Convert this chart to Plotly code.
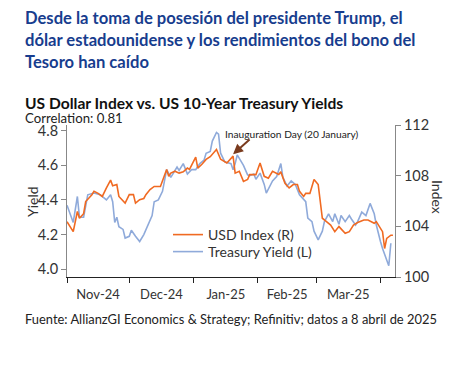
import plotly.graph_objects as go

# ---------------- data ----------------
usd_dates = ["2024-11-01","2024-11-04","2024-11-06","2024-11-07","2024-11-09","2024-11-10",
             "2024-11-13","2024-11-14","2024-11-16","2024-11-18","2024-11-20","2024-11-22",
             "2024-11-23","2024-11-25","2024-11-26","2024-11-27","2024-11-29","2024-12-01",
             "2024-12-03","2024-12-04","2024-12-06","2024-12-08","2024-12-09","2024-12-11",
             "2024-12-13","2024-12-16","2024-12-17","2024-12-19","2024-12-20","2024-12-21",
             "2024-12-23","2024-12-25","2024-12-27","2024-12-29","2024-12-30","2025-01-02",
             "2025-01-03","2025-01-05","2025-01-07","2025-01-09","2025-01-12","2025-01-14",
             "2025-01-17","2025-01-20","2025-01-21","2025-01-23","2025-01-25","2025-01-27",
             "2025-01-28","2025-01-31","2025-02-02","2025-02-04","2025-02-06","2025-02-08",
             "2025-02-11","2025-02-12","2025-02-14","2025-02-16","2025-02-18","2025-02-20",
             "2025-02-21","2025-02-23","2025-02-24","2025-02-26","2025-02-28","2025-03-02",
             "2025-03-03","2025-03-04","2025-03-06","2025-03-08","2025-03-10","2025-03-12",
             "2025-03-15","2025-03-17","2025-03-19","2025-03-21","2025-03-24","2025-03-26",
             "2025-03-29","2025-03-30","2025-04-02","2025-04-03","2025-04-04","2025-04-06",
             "2025-04-07"]
usd_index = [104.37,103.58,105.17,104.64,105.0,105.96,
             106.5,106.76,106.6,106.36,107.03,107.65,
             107.2,107.3,106.36,106.2,105.83,106.5,
             106.5,105.83,106.1,106.2,106.5,106.9,
             107.15,107.15,107.55,108.48,107.95,108.2,
             108.35,108.2,108.3,108.6,108.5,109.46,
             108.6,108.9,109.28,109.5,110.07,109.3,
             109.0,109.54,108.2,108.35,107.55,107.7,
             108.08,108.08,109.0,107.95,107.8,108.35,
             108.1,108.3,107.4,107.03,107.3,107.3,
             106.76,106.36,106.6,106.6,107.7,107.3,
             105.96,104.64,104.37,104.1,103.58,103.98,
             103.45,103.58,104.1,104.3,104.5,104.5,
             104.24,104.37,103.58,102.25,103.05,103.3,
             103.3]

tsy_dates = ["2024-11-01","2024-11-04","2024-11-06","2024-11-07","2024-11-09","2024-11-11",
             "2024-11-14","2024-11-17","2024-11-20","2024-11-22","2024-11-23","2024-11-24",
             "2024-11-25","2024-11-26","2024-11-28","2024-11-29","2024-12-01","2024-12-02",
             "2024-12-04","2024-12-06","2024-12-08","2024-12-10","2024-12-12","2024-12-13",
             "2024-12-15","2024-12-17","2024-12-18","2024-12-19","2024-12-21","2024-12-22",
             "2024-12-24","2024-12-25","2024-12-27","2024-12-29","2024-12-31","2025-01-02",
             "2025-01-04","2025-01-06","2025-01-07","2025-01-09","2025-01-10","2025-01-12",
             "2025-01-13","2025-01-14","2025-01-16","2025-01-19","2025-01-20","2025-01-21",
             "2025-01-22","2025-01-25","2025-01-27","2025-01-28","2025-01-30","2025-01-31",
             "2025-02-02","2025-02-04","2025-02-05","2025-02-08","2025-02-10","2025-02-12",
             "2025-02-13","2025-02-15","2025-02-17","2025-02-19","2025-02-21","2025-02-24",
             "2025-02-25","2025-02-27","2025-02-28","2025-03-02","2025-03-04","2025-03-05",
             "2025-03-07","2025-03-09","2025-03-10","2025-03-12","2025-03-13","2025-03-15",
             "2025-03-17","2025-03-18","2025-03-20","2025-03-21","2025-03-23","2025-03-25",
             "2025-03-27","2025-03-29","2025-03-30","2025-04-01","2025-04-02","2025-04-05",
             "2025-04-06"]
tsy_yield = [4.37,4.27,4.42,4.30,4.30,4.43,
             4.44,4.43,4.40,4.43,4.39,4.27,
             4.30,4.245,4.23,4.18,4.19,4.225,
             4.19,4.16,4.20,4.255,4.31,4.39,
             4.40,4.45,4.51,4.575,4.53,4.55,
             4.59,4.57,4.61,4.55,4.575,4.575,
             4.61,4.63,4.67,4.68,4.74,4.79,
             4.78,4.67,4.62,4.61,4.575,4.61,
             4.66,4.60,4.545,4.54,4.55,4.52,
             4.555,4.49,4.44,4.51,4.535,4.61,
             4.53,4.48,4.51,4.49,4.43,4.39,
             4.295,4.275,4.22,4.17,4.22,4.275,
             4.32,4.275,4.32,4.26,4.31,4.275,
             4.31,4.29,4.255,4.275,4.33,4.31,
             4.38,4.32,4.255,4.16,4.12,4.02,
             4.15]

yield_ticks = [4.0, 4.2, 4.4, 4.6, 4.8]
index_ticks = [100, 104, 108, 112]

title_lines = ["Desde la toma de posesión del presidente Trump, el",
               "dólar estadounidense y los rendimientos del bono del",
               "Tesoro han caído"]
chart_title = "US Dollar Index vs. US 10-Year Treasury Yields"
subtitle = "Correlation: 0.81"
source = "Fuente: AllianzGI Economics & Strategy; Refinitiv; datos a 8 abril de 2025"

ORANGE = "#F06A22"
BLUE = "#8FAADA"
NAVY = "#173D8E"
FONT = "Lato"

W, H = 465, 366
L, R, T, B = 67, 70, 125, 89
pw = W - L - R
ph = H - T - B

def px_x(x):
    return (x - L) / pw

def px_y(y):
    return (H - B - y) / ph

fig = go.Figure()
fig.add_trace(go.Scatter(x=tsy_dates, y=tsy_yield, mode="lines", name="Treasury Yield (L)",
                         line=dict(color=BLUE, width=1.6), yaxis="y", legend="legend2"))
fig.add_trace(go.Scatter(x=usd_dates, y=usd_index, mode="lines", name="USD Index (R)",
                         line=dict(color=ORANGE, width=1.6), yaxis="y2", legend="legend"))

annotations = []
for i, line in enumerate(title_lines):
    annotations.append(dict(text="<b>%s</b>" % line, xref="paper", yref="paper",
                            x=px_x(23), y=px_y(18 + 22 * i), xanchor="left", yanchor="middle",
                            showarrow=False, font=dict(family=FONT, size=16.6, color=NAVY)))
annotations.append(dict(text="<b>%s</b>" % chart_title, xref="paper", yref="paper",
                        x=px_x(23), y=px_y(103), xanchor="left", yanchor="middle",
                        showarrow=False, font=dict(family=FONT, size=15.6, color="#111111")))
annotations.append(dict(text=subtitle, xref="paper", yref="paper",
                        x=px_x(23), y=px_y(118), xanchor="left", yanchor="middle",
                        showarrow=False, font=dict(family=FONT, size=13.2, color="#222222")))
annotations.append(dict(text=source, xref="paper", yref="paper",
                        x=px_x(23), y=px_y(319), xanchor="left", yanchor="middle",
                        showarrow=False, font=dict(family=FONT, size=12.9, color="#222222")))
annotations.append(dict(text="Yield", xref="paper", yref="paper", textangle=-90,
                        x=px_x(32), y=px_y(202), xanchor="center", yanchor="middle",
                        showarrow=False, font=dict(family=FONT, size=14, color="#333333")))
annotations.append(dict(text="Index", xref="paper", yref="paper", textangle=90,
                        x=px_x(438), y=px_y(197), xanchor="center", yanchor="middle",
                        showarrow=False, font=dict(family=FONT, size=14, color="#333333")))
annotations.append(dict(text="Inauguration Day (20 January)", xref="paper", yref="paper",
                        x=px_x(291), y=px_y(134), xanchor="center", yanchor="middle",
                        showarrow=False, font=dict(family=FONT, size=10.2, color="#222222")))
annotations.append(dict(text="", x="2025-01-20", y=109.7, xref="x", yref="y2",
                        showarrow=True, arrowhead=2, arrowsize=1, arrowwidth=2,
                        arrowcolor="#7A3B1E", ax=18, ay=-16, axref="pixel", ayref="pixel"))

legend_common = dict(xanchor="left", yanchor="middle", bgcolor="rgba(0,0,0,0)",
                     font=dict(family=FONT, size=14, color="#333333"), itemwidth=30)

fig.update_layout(
    width=W, height=H,
    margin=dict(l=L, r=R, t=T, b=B, pad=0),
    paper_bgcolor="white", plot_bgcolor="white",
    font=dict(family=FONT, size=13, color="#333333"),
    showlegend=True,
    legend=dict(x=px_x(168), y=px_y(235), **legend_common),
    legend2=dict(x=px_x(168), y=px_y(252), **legend_common),
    xaxis=dict(type="date", range=["2024-11-01", "2025-04-08"], tickmode="linear",
               tick0="2024-11-01", dtick="M1",
               ticklabelmode="period", tickformat="%b-%y", ticks="outside", ticklen=5,
               tickcolor="#222222", showline=True, linecolor="#222222", linewidth=1,
               showgrid=False, zeroline=False,
               tickfont=dict(family=FONT, size=13, color="#333333")),
    yaxis=dict(range=[3.955, 4.833], tickvals=yield_ticks, tickformat=".1f",
               ticks="outside", ticklen=5, tickcolor="#888888", showline=True,
               linecolor="#888888", showgrid=False, zeroline=False,
               tickfont=dict(family=FONT, size=14.5, color="#333333")),
    yaxis2=dict(range=[100, 112], tickvals=index_ticks, overlaying="y", side="right",
                ticks="outside", ticklen=5, tickcolor="#888888", showline=True,
                linecolor="#888888", showgrid=False, zeroline=False,
                tickfont=dict(family=FONT, size=14.5, color="#333333")),
    annotations=annotations,
)

fig.write_html("out.html", config={"displayModeBar": False},
               post_script="document.body.style.margin='0';")
